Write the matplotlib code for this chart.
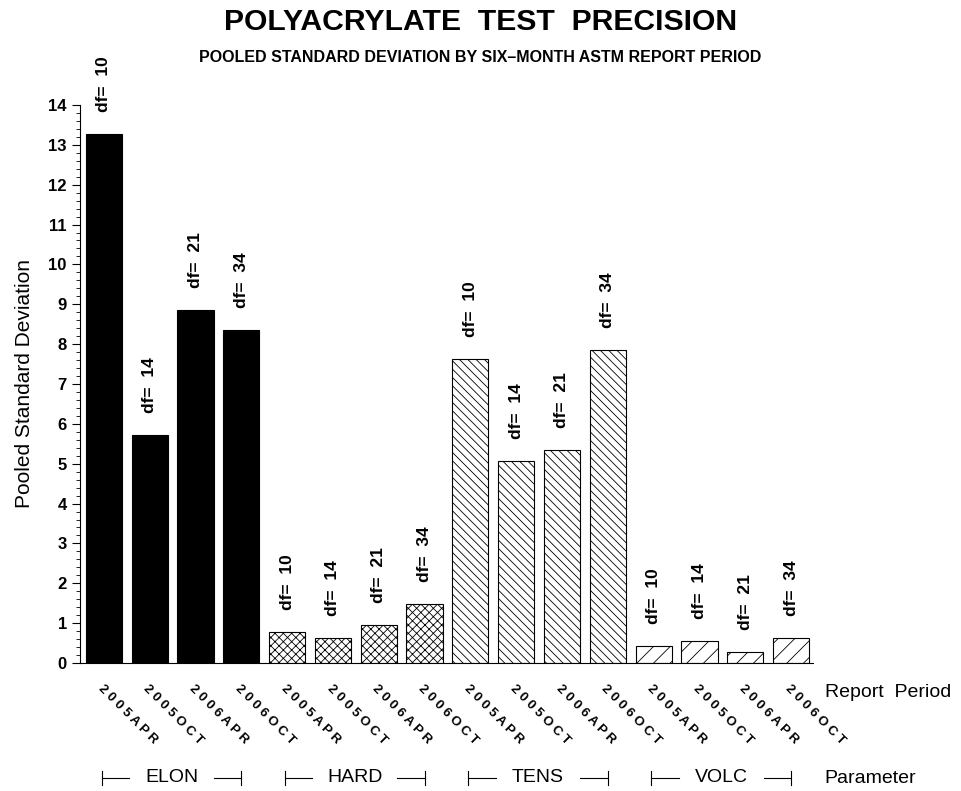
import matplotlib
matplotlib.use('Agg')
import matplotlib.pyplot as plt
import matplotlib.transforms as mtransforms

plt.rcParams['font.family'] = ['Liberation Sans', 'DejaVu Sans']
plt.rcParams['hatch.linewidth'] = 0.6

# Data
parameters = ['ELON', 'HARD', 'TENS', 'VOLC']
periods = ['2005APR', '2005OCT', '2006APR', '2006OCT']
df_values = [10, 14, 21, 34]
elon = [13.28, 5.72, 8.86, 8.35]
hard = [0.78, 0.625, 0.95, 1.475]
tens = [7.63, 5.08, 5.35, 7.85]
volc = [0.43, 0.56, 0.28, 0.63]
hatches = ['', 'xxxx', '\\\\\\\\', '//']
colors = ['black', 'white', 'white', 'white']

fig = plt.figure(figsize=(9.61, 7.91), dpi=100)
ax = fig.add_axes([0.0832, 0.1618, 0.7628, 0.7055])

series = [elon, hard, tens, volc]
xpos = 0
tick_pos = []
tick_lab = []
for g, vals in enumerate(series):
    for j, v in enumerate(vals):
        ax.bar(xpos, v, width=0.79, color=colors[g], edgecolor='black',
               linewidth=0.8, hatch=hatches[g])
        ax.text(xpos, v + 0.55, f'df=  {df_values[j]}', rotation=90,
                ha='center', va='bottom', fontsize=12.5, fontweight='bold',
                clip_on=False)
        tick_pos.append(xpos)
        tick_lab.append(' '.join(periods[j]))
        xpos += 1

ax.set_xlim(-0.524, 15.48)
ax.set_ylim(0, 14)
ax.spines['top'].set_visible(False)
ax.spines['right'].set_visible(False)
ax.spines['left'].set_bounds(0, 14)

ax.set_yticks(range(0, 15))
ax.set_yticks([i * 0.2 for i in range(71)], minor=True)
ax.tick_params(axis='y', which='major', length=6, width=0.8, labelsize=12)
ax.tick_params(axis='y', which='minor', length=3, width=0.6)
for lbl in ax.get_yticklabels():
    lbl.set_fontweight('bold')

ax.set_xticks(tick_pos)
ax.set_xticklabels(tick_lab, rotation=-45, ha='left', va='top',
                   rotation_mode='anchor', fontsize=9.5, fontweight='bold')
ax.tick_params(axis='x', length=0, pad=14)

ax.set_ylabel('Pooled Standard Deviation', fontsize=15, labelpad=10)

# group brackets below the period labels
trans = mtransforms.blended_transform_factory(ax.transData, ax.transAxes)
ygrp = -0.206
for g, name in enumerate(parameters):
    x0 = g * 4 - 0.05
    x1 = g * 4 + 3
    ax.plot([x0, x0 + 0.6], [ygrp, ygrp], color='black', lw=0.8,
            transform=trans, clip_on=False)
    ax.plot([x1 - 0.6, x1], [ygrp, ygrp], color='black', lw=0.8,
            transform=trans, clip_on=False)
    for xx in (x0, x1):
        ax.plot([xx, xx], [ygrp - 0.013, ygrp + 0.013], color='black', lw=0.8,
                transform=trans, clip_on=False)
    ax.text((x0 + x1) / 2, ygrp, name, transform=trans, ha='center',
            va='center', fontsize=14)

fig.text(0.858, 0.125, 'Report  Period', fontsize=14, ha='left', va='center')
fig.text(0.858, 0.0164, 'Parameter', fontsize=14, ha='left', va='center')

fig.text(0.5, 0.972, 'POLYACRYLATE  TEST  PRECISION', fontsize=21.7,
         fontweight='bold', ha='center', va='center')
fig.text(0.5, 0.927, 'POOLED STANDARD DEVIATION BY SIX\u2013MONTH ASTM REPORT PERIOD',
         fontsize=11.5, fontweight='bold', ha='center', va='center')

fig.savefig('out.png', dpi=100)
